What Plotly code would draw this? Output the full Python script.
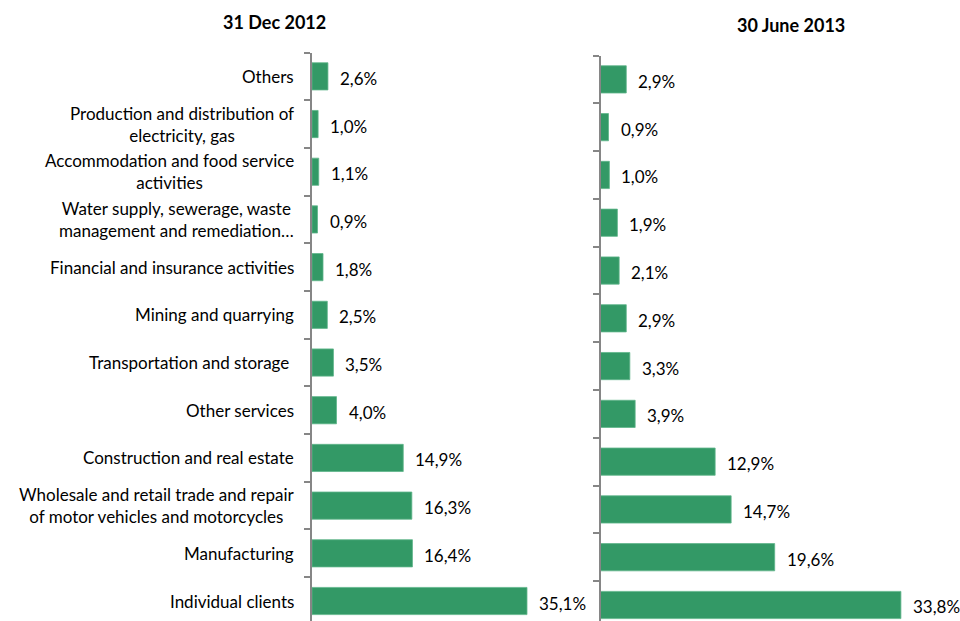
import plotly.graph_objects as go

# Sector breakdown, listed from top to bottom of the chart
sectors = [
    "Others",
    "Production and distribution of<br>electricity, gas",
    "Accommodation and food service<br>activities",
    "Water supply, sewerage, waste<br>management and remediation…",
    "Financial and insurance activities",
    "Mining and quarrying",
    "Transportation and storage ",
    "Other services",
    "Construction and real estate",
    "Wholesale and retail trade and repair<br>of motor vehicles and motorcycles",
    "Manufacturing",
    "Individual clients",
]
share_dec_2012 = [2.6, 1.0, 1.1, 0.9, 1.8, 2.5, 3.5, 4.0, 14.9, 16.3, 16.4, 35.1]
share_jun_2013 = [2.9, 0.9, 1.0, 1.9, 2.1, 2.9, 3.3, 3.9, 12.9, 14.7, 19.6, 33.8]
panel_titles = ["31 Dec 2012", "30 June 2013"]

W, H = 960, 621
FONT = "Lato"
BAR = "#339966"
AXIS = "#868686"

# plotly draws the first category at the bottom, so reverse the order
cats = sectors[::-1]
vals_l = share_dec_2012[::-1]
vals_r = share_jun_2013[::-1]


def fmt(v):
    return f"{v:.1f}".replace(".", ",") + "%"


fig = go.Figure()
fig.add_trace(go.Bar(x=vals_l, y=cats, orientation="h", xaxis="x", yaxis="y",
                     marker=dict(color=BAR, line=dict(color="#5fb58a", width=0.8)),
                     width=0.57, hoverinfo="skip", showlegend=False))
fig.add_trace(go.Bar(x=vals_r, y=cats, orientation="h", xaxis="x2", yaxis="y2",
                     marker=dict(color=BAR, line=dict(color="#5fb58a", width=0.8)),
                     width=0.57, hoverinfo="skip", showlegend=False))

annotations = []
# category labels to the left of the first panel
for c in cats:
    annotations.append(dict(xref="x", yref="y", x=0, y=c, text=c, showarrow=False,
                            xanchor="right", yanchor="middle", align="center",
                            xshift=-16, font=dict(family=FONT, size=17, color="#000")))
# value labels
for c, v in zip(cats, vals_l):
    annotations.append(dict(xref="x", yref="y", x=v, y=c, text=fmt(v), showarrow=False,
                            xanchor="left", yanchor="middle", xshift=10, yshift=-2,
                            font=dict(family=FONT, size=17, color="#000")))
for c, v in zip(cats, vals_r):
    annotations.append(dict(xref="x2", yref="y2", x=v, y=c, text=fmt(v), showarrow=False,
                            xanchor="left", yanchor="middle", xshift=10, yshift=-2,
                            font=dict(family=FONT, size=17, color="#000")))
# panel titles
annotations.append(dict(xref="paper", yref="paper", x=274 / W, y=1 - 22 / H,
                        text="<b>" + panel_titles[0] + "</b>", showarrow=False,
                        xanchor="center", yanchor="middle",
                        font=dict(family=FONT, size=18, color="#000")))
annotations.append(dict(xref="paper", yref="paper", x=791 / W, y=1 - 25 / H,
                        text="<b>" + panel_titles[1] + "</b>", showarrow=False,
                        xanchor="center", yanchor="middle",
                        font=dict(family=FONT, size=18, color="#000")))

yax = dict(type="category", categoryorder="array", categoryarray=cats,
           showline=True, linecolor=AXIS, linewidth=1.5, ticks="outside",
           tickson="boundaries", ticklen=6, tickcolor=AXIS, tickwidth=1.5,
           showticklabels=False, showgrid=False, zeroline=False, fixedrange=True)
xax = dict(range=[0, 40], visible=False, showgrid=False, zeroline=False, fixedrange=True)

fig.update_layout(
    width=W, height=H,
    margin=dict(l=0, r=0, t=0, b=0),
    paper_bgcolor="white", plot_bgcolor="white",
    xaxis=dict(xax, domain=[312 / W, 557 / W], anchor="y"),
    xaxis2=dict(xax, domain=[600.5 / W, 956 / W], anchor="y2"),
    yaxis=dict(yax, domain=[0, 1 - 52.5 / H], range=[-0.419, 11.5], anchor="x"),
    yaxis2=dict(yax, domain=[0, 1 - 55.5 / H], range=[-0.335, 11.5], anchor="x2"),
    annotations=annotations,
    font=dict(family=FONT),
)

fig.write_html("out.html", config=dict(displayModeBar=False))
